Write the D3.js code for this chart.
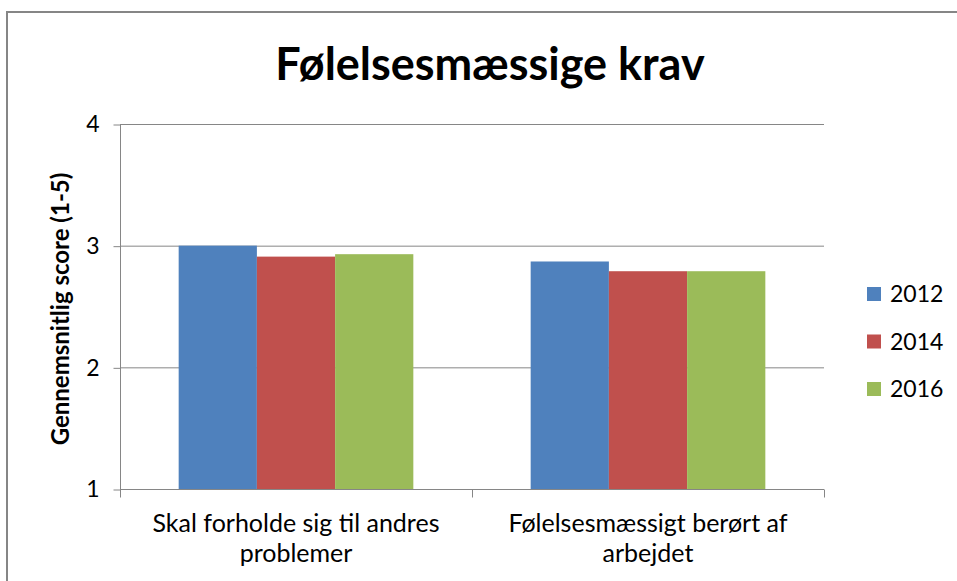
<!DOCTYPE html>
<html>
<head>
<meta charset="utf-8">
<script src="https://cdn.jsdelivr.net/npm/d3@7"></script>
<style>
  body { margin: 0; background: #fff; }
  text { font-family: Lato, "Open Sans", sans-serif; fill: #000; }
</style>
</head>
<body>
<div id="chart"></div>
<script>
// Chart data
var categories = ["Skal forholde sig til andres problemer", "Følelsesmæssigt berørt af arbejdet"];
var categoryLines = [["Skal forholde sig til andres", "problemer"], ["Følelsesmæssigt berørt af", "arbejdet"]];
var years = ["2012", "2014", "2016"];
var values2012 = [3.00, 2.87];
var values2014 = [2.91, 2.79];
var values2016 = [2.93, 2.79];
var yTicks = [1, 2, 3, 4];
var colors = ["#4F81BD", "#C0504D", "#9BBB59"];

var seriesValues = [values2012, values2014, values2016];

var width = 957, height = 581;
var plot = {left: 120, right: 824, top: 124, bottom: 489};

var svg = d3.select("#chart")
            .append("svg")
            .attr("width", width)
            .attr("height", height);

svg.append("rect")
   .attr("width", width)
   .attr("height", height)
   .attr("fill", "#fff");

// chart frame (runs off the right and bottom edge)
svg.append("rect")
   .attr("x", 7)
   .attr("y", 12)
   .attr("width", 980)
   .attr("height", 600)
   .attr("fill", "none")
   .attr("stroke", "#868686")
   .attr("stroke-width", 2);

// Scales
var yScale = d3.scaleLinear()
  .domain([1, 4])
  .range([plot.bottom, plot.top]);

var x0 = d3.scaleBand()
  .domain(categories)
  .range([plot.left, plot.right]);

var gap = x0.bandwidth() * 1.5 / 4.5;
var x1 = d3.scaleBand()
  .domain(years)
  .range([gap / 2, x0.bandwidth() - gap / 2]);

// gridlines
svg.append("g")
   .selectAll("line")
   .data(yTicks.filter(function(d) { return d > 1; }))
   .enter()
   .append("line")
   .attr("x1", plot.left)
   .attr("x2", plot.right)
   .attr("y1", function(d) { return yScale(d) + 0.5; })
   .attr("y2", function(d) { return yScale(d) + 0.5; })
   .attr("stroke", "#868686")
   .attr("stroke-width", 1);

// y axis
var yAxis = d3.axisLeft(yScale)
  .tickValues(yTicks)
  .tickSize(7)
  .tickPadding(14)
  .tickFormat(d3.format("d"));

var yAxisGroup = svg.append("g")
  .attr("transform", "translate(" + (plot.left + 0.5) + ",0.5)")
  .call(yAxis);
yAxisGroup.select(".domain").attr("stroke", "#868686").attr("d", "M0," + plot.top + "V" + plot.bottom);
yAxisGroup.selectAll(".tick line").attr("stroke", "#868686");
yAxisGroup.selectAll(".tick text")
  .style("font-size", "23px")
  .style("font-family", "Lato, 'Open Sans', sans-serif")
  .attr("fill", "#000");

// bars
var groups = svg.append("g")
  .selectAll("g")
  .data(categories)
  .enter()
  .append("g")
  .attr("transform", function(d) { return "translate(" + x0(d) + ",0)"; });

groups.selectAll("rect")
  .data(function(d, i) {
    return years.map(function(y, j) { return {year: y, value: seriesValues[j][i], color: colors[j]}; });
  })
  .enter()
  .append("rect")
  .attr("x", function(d) { return x1(d.year); })
  .attr("y", function(d) { return yScale(d.value); })
  .attr("width", x1.bandwidth())
  .attr("height", function(d) { return yScale(1) - yScale(d.value); })
  .attr("fill", function(d) { return d.color; });

// x axis
var xAxisGroup = svg.append("g")
  .attr("transform", "translate(0," + (plot.bottom + 0.5) + ")");
xAxisGroup.append("line")
  .attr("x1", plot.left)
  .attr("x2", plot.right)
  .attr("stroke", "#868686");
xAxisGroup.selectAll("line.tick")
  .data([plot.left, x0(categories[1]), plot.right])
  .enter()
  .append("line")
  .attr("class", "tick")
  .attr("x1", function(d) { return d + 0.5; })
  .attr("x2", function(d) { return d + 0.5; })
  .attr("y1", 0)
  .attr("y2", 8)
  .attr("stroke", "#868686");

var catLabels = svg.append("g")
  .selectAll("text")
  .data(categories)
  .enter()
  .append("text")
  .attr("text-anchor", "middle")
  .style("font-size", "25px")
  .attr("x", function(d) { return x0(d) + x0.bandwidth() / 2; })
  .attr("y", 532);

catLabels.selectAll("tspan")
  .data(function(d, i) { return categoryLines[i]; })
  .enter()
  .append("tspan")
  .attr("x", function() { return d3.select(this.parentNode).attr("x"); })
  .attr("dy", function(d, i) { return i === 0 ? 0 : 30; })
  .text(function(d) { return d; });

// title
svg.append("text")
   .attr("x", 490)
   .attr("y", 80)
   .attr("text-anchor", "middle")
   .style("font-size", "45px")
   .style("font-weight", "bold")
   .text("Følelsesmæssige krav");

// y axis title
svg.append("text")
   .attr("transform", "translate(69,309) rotate(-90)")
   .attr("text-anchor", "middle")
   .style("font-size", "24px")
   .style("font-weight", "bold")
   .text("Gennemsnitlig score (1-5)");

// legend
var legend = svg.append("g")
  .selectAll("g")
  .data(years)
  .enter()
  .append("g")
  .attr("transform", function(d, i) { return "translate(867," + (287 + i * 47.5) + ")"; });

legend.append("rect")
  .attr("width", 14)
  .attr("height", 14)
  .attr("fill", function(d, i) { return colors[i]; });

legend.append("text")
  .attr("x", 23)
  .attr("y", 15)
  .style("font-size", "23px")
  .text(function(d) { return d; });
</script>
</body>
</html>
